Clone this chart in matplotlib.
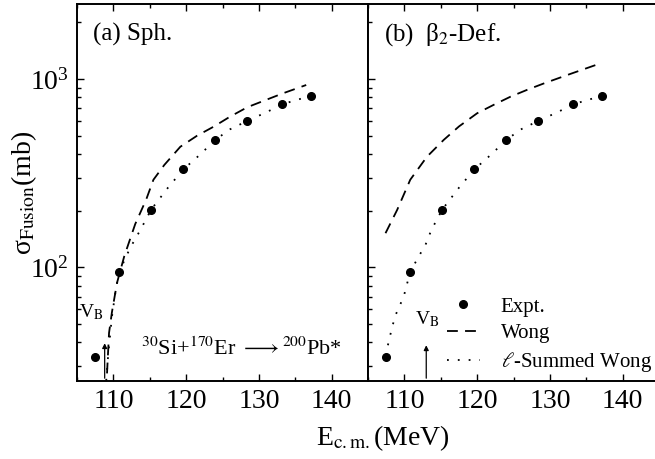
import matplotlib
matplotlib.use('Agg')
import matplotlib.pyplot as plt
from matplotlib.ticker import MultipleLocator, LogLocator, NullFormatter

plt.rcParams['font.family'] = ['Liberation Serif', 'DejaVu Serif']
plt.rcParams['mathtext.fontset'] = 'stix'

# experimental fusion cross sections (same in both panels)
e_expt = [107.5, 110.8, 115.2, 119.6, 124.0, 128.4, 133.2, 137.1]
sig_expt = [33.5, 94.5, 203, 331, 475, 599, 734, 813]

# (a) spherical: Wong and l-summed Wong
e_wong_sph = [109.0, 109.4, 109.8, 110.5, 111.5, 113.0, 114.5, 115.5, 117.0,
              119.2, 121.5, 123.8, 126.0, 128.4, 131.0, 133.3, 136.5]
sig_wong_sph = [22, 45, 58, 83, 115, 170, 229, 292, 350,
                437, 500, 559, 630, 708, 775, 839, 929]
e_lsum_sph = [108.9, 109.3, 109.8, 110.3, 110.8, 112.3, 113.7, 115.2, 117.5,
              119.6, 122.0, 124.0, 126.0, 128.4, 131.0, 133.2, 135.0, 137.1]
sig_lsum_sph = [22, 35, 55, 75, 95, 127, 158, 203, 265,
                331, 400, 475, 540, 599, 665, 734, 770, 813]

# (b) beta2-deformed
e_wong_def = [107.4, 109.0, 110.8, 113.1, 115.4, 117.5, 120.0, 122.3, 124.6,
              127.0, 129.2, 132.7, 136.3]
sig_wong_def = [152, 202, 292, 387, 475, 560, 658, 730, 806, 880, 948, 1060, 1186]
e_lsum_def = [107.4, 108.0, 108.7, 109.9, 110.8, 112.0, 112.9, 113.7, 115.2,
              117.5, 119.6, 122.0, 124.0, 126.0, 128.4, 131.0, 133.2, 135.0, 137.1]
sig_lsum_def = [34, 43, 55, 70, 95, 115, 132, 158, 203,
                265, 331, 400, 475, 540, 599, 665, 734, 770, 813]

vb_sph = 108.8
vb_def = 113.0

fig = plt.figure(figsize=(6.55, 4.59), dpi=100)
ax1 = fig.add_axes([0.1176, 0.170, 0.4443, 0.8214])
ax2 = fig.add_axes([0.5619, 0.170, 0.4443, 0.8214])

dash = (0, (6, 4))
dots = (0, (1, 5))

for ax in (ax1, ax2):
    ax.set_yscale('log')
    ax.set_xlim(105, 145)
    ax.set_ylim(25, 2500)
    ax.xaxis.set_major_locator(MultipleLocator(10))
    ax.xaxis.set_minor_locator(MultipleLocator(5))
    ax.yaxis.set_major_locator(LogLocator(base=10, numticks=10))
    ax.yaxis.set_minor_locator(LogLocator(base=10, subs=range(2, 10), numticks=10))
    ax.yaxis.set_minor_formatter(NullFormatter())
    ax.tick_params(which='both', direction='in', top=True, right=False,
                   labelsize=20, width=1.0)
    ax.tick_params(which='major', length=5, pad=6)
    ax.tick_params(which='minor', length=3)
    for s in ax.spines.values():
        s.set_linewidth(1.4)
    ax.plot(e_expt, sig_expt, 'o', color='k', ms=5.5, label='Expt.')

ax1.plot(e_wong_sph, sig_wong_sph, color='k', lw=1.3, linestyle=dash)
ax1.plot(e_lsum_sph, sig_lsum_sph, color='k', lw=1.3, linestyle=dots)
ax2.plot(e_wong_def, sig_wong_def, color='k', lw=1.3, linestyle=dash, label='Wong')
ax2.plot(e_lsum_def, sig_lsum_def, color='k', lw=1.3, linestyle=dots,
         label=r'$\ell$-Summed Wong')

ax2.tick_params(axis='y', which='both', labelleft=False)

ax1.text(0.055, 0.92, '(a) Sph.', transform=ax1.transAxes, fontsize=18, va='center')
ax2.text(0.055, 0.92, '(b)  β$_2$-Def.', transform=ax2.transAxes,
         fontsize=18, va='center')
ax1.text(0.22, 0.085, r'$^{30}$Si+$^{170}$Er $\longrightarrow$$^{200}$Pb*',
         transform=ax1.transAxes, fontsize=16, va='center')

# Coulomb barrier markers
ax1.annotate('', xy=(vb_sph, 41), xytext=(vb_sph, 25),
             arrowprops=dict(arrowstyle='-|>', lw=0.9, color='k', mutation_scale=7))
ax1.text(vb_sph - 0.1, 58, r'V$_{\rm B}$', fontsize=14, ha='right', va='center')
ax2.annotate('', xy=(vb_def, 40), xytext=(vb_def, 25),
             arrowprops=dict(arrowstyle='-|>', lw=0.9, color='k', mutation_scale=7))
ax2.text(vb_def + 0.2, 53, r'V$_{\rm B}$', fontsize=14, ha='center', va='center')

ax2.legend(loc='lower left', bbox_to_anchor=(0.22, -0.02), frameon=False,
           fontsize=15, handlelength=1.6, labelspacing=0.33, handletextpad=1.0,
           borderpad=0.2, numpoints=1)

ax1.set_ylabel('σ$_{\\rm Fusion}$(mb)', fontsize=20)
ax1.yaxis.set_label_coords(-0.13, 0.5)
fig.text(0.585, 0.045, r'E$_{\rm c.m.}$(MeV)', fontsize=20, ha='center', va='center')

fig.savefig('out.png', dpi=100)
